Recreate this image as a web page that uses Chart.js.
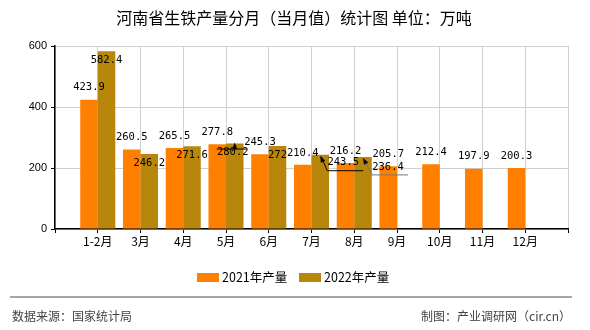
<!DOCTYPE html>
<html lang="zh">
<head>
    <meta charset="UTF-8">
    <title>河南省生铁产量分月（当月值）统计图</title>
    <script src="https://cdn.jsdelivr.net/npm/chart.js"></script>
    <style>
        html, body { margin: 0; padding: 0; background: #fff; }
        #wrap { width: 590px; height: 330px; position: relative; }
    </style>
</head>
<body>
<div id="wrap"><canvas id="chart" width="590" height="330"></canvas></div>
<script>
    // 月份（前后留空位，和原图的坐标轴一致）
    var months = ['', '1-2月', '3月', '4月', '5月', '6月', '7月', '8月', '9月', '10月', '11月', '12月', ''];
    // 2021年产量（万吨）
    var y2021 = [null, 423.9, 260.5, 265.5, 277.8, 245.3, 210.4, 216.2, 205.7, 212.4, 197.9, 200.3, null];
    // 2022年产量（万吨）
    var y2022 = [null, 582.4, 246.2, 271.6, 280.2, 272, 243.5, 236.4, null, null, null, null, null];
    var yTicks = [0, 200, 400, 600];

    var ORANGE = '#ff8000';
    var GOLD = '#b8860b';
    var CJK = '"Noto Sans CJK SC", sans-serif';
    var MONO = '"DejaVu Sans Mono", monospace';

    // 2022年部分标签被挤开，带引线
    var tweak22 = {
        4: { dx: -2, dy: 0, lead: 'up' },
        6: { dx: 23, dy: -1, lead: 'side', color: '#000' },
        7: { dx: 25, dy: 1, lead: 'side', color: '#777' }
    };

    function arrowHead(ctx, fx, fy, tx, ty) {
        var a = Math.atan2(ty - fy, tx - fx);
        ctx.beginPath();
        ctx.moveTo(tx, ty);
        ctx.lineTo(tx - 7 * Math.cos(a - 0.35), ty - 7 * Math.sin(a - 0.35));
        ctx.lineTo(tx - 7 * Math.cos(a + 0.35), ty - 7 * Math.sin(a + 0.35));
        ctx.closePath();
        ctx.fill();
    }

    // 标题、图例、数据标签、底部说明
    var decor = {
        id: 'decor',
        afterDatasetsDraw: function (chart) {
            var ctx = chart.ctx;
            ctx.save();
            ctx.textAlign = 'center';
            ctx.textBaseline = 'middle';
            ctx.font = '10.5px ' + MONO;
            ctx.fillStyle = '#000';

            chart.getDatasetMeta(0).data.forEach(function (bar, i) {
                var v = y2021[i];
                if (v == null) return;
                ctx.fillText(String(v), bar.x, bar.y - 12);
            });

            chart.getDatasetMeta(1).data.forEach(function (bar, i) {
                var v = y2022[i];
                if (v == null) return;
                var t = tweak22[i] || { dx: 0, dy: 0 };
                var lx = bar.x + t.dx, ly = bar.y + 9 + t.dy;
                ctx.fillStyle = '#000';
                ctx.fillText(String(v), lx, ly);
                if (!t.lead) return;
                ctx.strokeStyle = t.color || '#000';
                ctx.fillStyle = '#000';
                ctx.lineWidth = 1;
                if (t.lead === 'up') {
                    var uy = bar.y + 5.5;
                    ctx.beginPath();
                    ctx.moveTo(lx - 16, uy); ctx.lineTo(lx + 14, uy);
                    ctx.moveTo(bar.x, uy); ctx.lineTo(bar.x, bar.y + 1);
                    ctx.stroke();
                    arrowHead(ctx, bar.x, uy, bar.x, bar.y - 1);
                } else {
                    var uy2 = ly + 8, sx = lx - 16;
                    ctx.beginPath();
                    ctx.moveTo(sx, uy2); ctx.lineTo(lx + 20, uy2);
                    ctx.moveTo(sx, uy2); ctx.lineTo(bar.x + 1, bar.y + 2);
                    ctx.stroke();
                    arrowHead(ctx, sx, uy2, bar.x, bar.y + 1);
                }
            });
            ctx.restore();
        },
        afterDraw: function (chart) {
            var ctx = chart.ctx;
            ctx.save();
            ctx.fillStyle = '#000';
            ctx.textBaseline = 'middle';
            ctx.textAlign = 'center';
            ctx.font = '16px ' + CJK;
            ctx.fillText('河南省生铁产量分月（当月值）统计图 单位：万吨', 294, 18);

            // 图例
            ctx.font = '12.5px ' + CJK;
            ctx.textAlign = 'left';
            var items = [['2021年产量', ORANGE, 197], ['2022年产量', GOLD, 299]];
            items.forEach(function (it) {
                ctx.fillStyle = it[1];
                ctx.fillRect(it[2], 273, 22, 9);
                ctx.fillStyle = '#000';
                ctx.fillText(it[0], it[2] + 25, 277);
            });

            // 底部
            ctx.strokeStyle = '#888';
            ctx.lineWidth = 1.5;
            ctx.beginPath();
            ctx.moveTo(10, 297); ctx.lineTo(572, 297);
            ctx.stroke();
            ctx.fillStyle = '#444';
            ctx.font = '12px ' + CJK;
            ctx.fillText('数据来源：国家统计局', 12, 316);
            ctx.textAlign = 'right';
            ctx.fillText('制图：产业调研网（cir.cn）', 571, 316);
            ctx.restore();
        }
    };

    var ctx = document.getElementById('chart').getContext('2d');
    new Chart(ctx, {
        type: 'bar',
        data: {
            labels: months,
            datasets: [
                { label: '2021年产量', data: y2021, backgroundColor: ORANGE, categoryPercentage: 0.82, barPercentage: 1.0 },
                { label: '2022年产量', data: y2022, backgroundColor: GOLD, categoryPercentage: 0.82, barPercentage: 1.0 }
            ]
        },
        options: {
            responsive: false,
            animation: false,
            events: [],
            layout: { padding: { left: 0, right: 22, top: 46, bottom: 81 } },
            plugins: {
                legend: { display: false },
                title: { display: false },
                tooltip: { enabled: false }
            },
            scales: {
                x: {
                    offset: false,
                    grid: { offset: false, color: '#d0d0d0', tickColor: '#000', tickLength: 4, drawTicks: true },
                    border: { color: '#000', width: 1.5 },
                    ticks: { color: '#000', font: { family: CJK, size: 12 }, padding: 1, maxRotation: 0, autoSkip: false },
                    afterFit: function (s) { s.height = 20; }
                },
                y: {
                    min: 0,
                    max: 600,
                    afterBuildTicks: function (s) { s.ticks = yTicks.map(function (v) { return { value: v }; }); },
                    grid: { color: '#d0d0d0', tickColor: '#000', tickLength: 4 },
                    border: { color: '#000', width: 1.5 },
                    ticks: { color: '#000', font: { family: 'Liberation Sans, sans-serif', size: 11 }, padding: 4 },
                    afterFit: function (s) { s.width = 55; }
                }
            }
        },
        plugins: [decor]
    });
</script>
</body>
</html>
